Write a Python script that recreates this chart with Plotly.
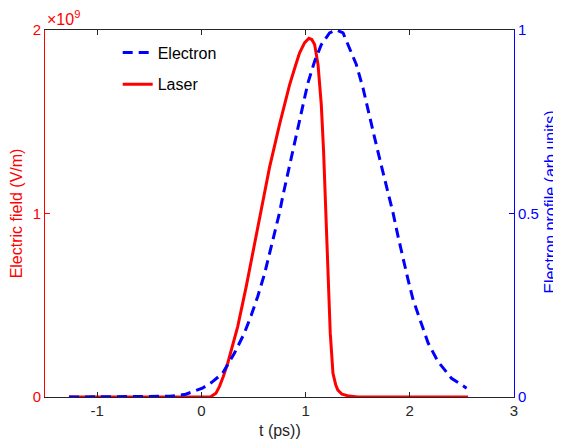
import plotly.graph_objects as go

# ---- data ----
LASER_T = [-1.27, 0.0, 0.08, 0.10, 0.14, 0.173, 0.21, 0.253, 0.30, 0.349, 0.43, 0.51, 0.59,
           0.654, 0.75, 0.846, 0.90, 0.942, 0.99, 1.032, 1.06, 1.087, 1.12, 1.151, 1.173, 1.192,
           1.215, 1.237, 1.263, 1.29, 1.31, 1.35, 1.42, 1.5, 2.56]
LASER_E_1E9 = [0.0, 0.0, 0.0, 0.005, 0.02, 0.056, 0.11, 0.184, 0.28, 0.384, 0.60, 0.839, 1.06,
               1.25, 1.484, 1.70, 1.80, 1.874, 1.93, 1.955, 1.948, 1.921, 1.81, 1.593, 1.339, 1.06,
               0.711, 0.348, 0.129, 0.065, 0.038, 0.015, 0.005, 0.0, 0.0]

ELEC_T = [-1.27, -0.6, -0.3, -0.15, 0.01, 0.1, 0.205, 0.317, 0.413, 0.478, 0.541, 0.606,
          0.654, 0.702, 0.75, 0.782, 0.846, 0.91, 0.974, 1.022, 1.087, 1.151, 1.23, 1.295,
          1.36, 1.423, 1.487, 1.551, 1.615, 1.663, 1.712, 1.776, 1.84, 1.888, 1.936, 1.984,
          2.032, 2.096, 2.176, 2.272, 2.4, 2.545]
ELEC_PROFILE = [0.0, 0.0, 0.002, 0.0074, 0.024, 0.04, 0.065, 0.119, 0.174, 0.222, 0.274, 0.335,
                0.388, 0.445, 0.502, 0.548, 0.628, 0.712, 0.792, 0.855, 0.915, 0.96, 0.992, 1.0,
                0.992, 0.951, 0.906, 0.842, 0.769, 0.706, 0.648, 0.575, 0.501, 0.437, 0.374, 0.319,
                0.265, 0.21, 0.147, 0.096, 0.051, 0.024]

X_TICKS = [-1, 0, 1, 2, 3]
Y1_TICKS = [0, 1e9, 2e9]
Y1_TEXT = ["0", "1", "2"]
Y2_TICKS = [0, 0.5, 1]
Y2_TEXT = ["0", "0.5", "1"]

FONT = "Liberation Sans, Arial, sans-serif"
RED = "#ff0000"
BLUE = "#0000ff"
DARK = "#262626"

fig = go.Figure()
fig.add_trace(go.Scatter(
    x=LASER_T, y=[v * 1e9 for v in LASER_E_1E9], name="Laser", mode="lines",
    line=dict(color=RED, width=3), yaxis="y", legendrank=2, legendgroup="b"))
fig.add_trace(go.Scatter(
    x=ELEC_T, y=ELEC_PROFILE, name="Electron", mode="lines",
    line=dict(color=BLUE, width=3, dash="10px,6px"), yaxis="y2", legendrank=1, legendgroup="a"))

# the page adds an 8px body margin, so margins are offset by 8px
fig.update_layout(
    width=561, height=441,
    margin=dict(l=37, r=55, t=22, b=52),
    paper_bgcolor="white", plot_bgcolor="white",
    font=dict(family=FONT, size=16, color=DARK),
    showlegend=True,
    legend=dict(x=0.155, y=0.985, xanchor="left", yanchor="top",
                bgcolor="rgba(0,0,0,0)", font=dict(size=16, color="black"),
                tracegroupgap=8, traceorder="grouped"),
    xaxis=dict(range=[-1.5, 3], tickvals=X_TICKS, ticktext=[str(v) for v in X_TICKS],
               showgrid=False, zeroline=False, showline=True, linecolor=DARK, linewidth=1,
               mirror="ticks", ticks="inside", ticklen=5, tickcolor=DARK,
               tickfont=dict(size=15, color=DARK)),
    yaxis=dict(range=[0, 2e9], tickvals=Y1_TICKS, ticktext=Y1_TEXT,
               showgrid=False, zeroline=False, showline=True, linecolor=RED, linewidth=1,
               ticks="inside", ticklen=5, tickcolor=RED, tickfont=dict(size=15, color=RED)),
    yaxis2=dict(range=[0, 1], tickvals=Y2_TICKS, ticktext=Y2_TEXT, overlaying="y", side="right",
                showgrid=False, zeroline=False, showline=True, linecolor=BLUE, linewidth=1,
                ticks="inside", ticklen=5, tickcolor=BLUE, tickfont=dict(size=15, color=BLUE)),
    annotations=[
        dict(text="×10<sup>9</sup>", xref="paper", yref="paper", x=0.0, y=1.0,
             xanchor="left", yanchor="bottom", showarrow=False, font=dict(size=16, color=RED)),
        dict(text="Electric field (V/m)", xref="paper", yref="paper", x=-0.06, y=0.5,
             textangle=-90, xanchor="center", yanchor="middle", showarrow=False,
             font=dict(size=16, color=RED)),
        dict(text="Electron profile (arb.units)", xref="paper", yref="paper", x=1.077, y=0.53,
             textangle=-90, xanchor="center", yanchor="middle", showarrow=False,
             font=dict(size=16, color=BLUE)),
        dict(text="t (ps))", xref="paper", yref="paper", x=0.5, y=-0.09,
             xanchor="center", yanchor="middle", showarrow=False,
             font=dict(size=16, color=DARK)),
    ],
)

fig.write_html("out.html")
